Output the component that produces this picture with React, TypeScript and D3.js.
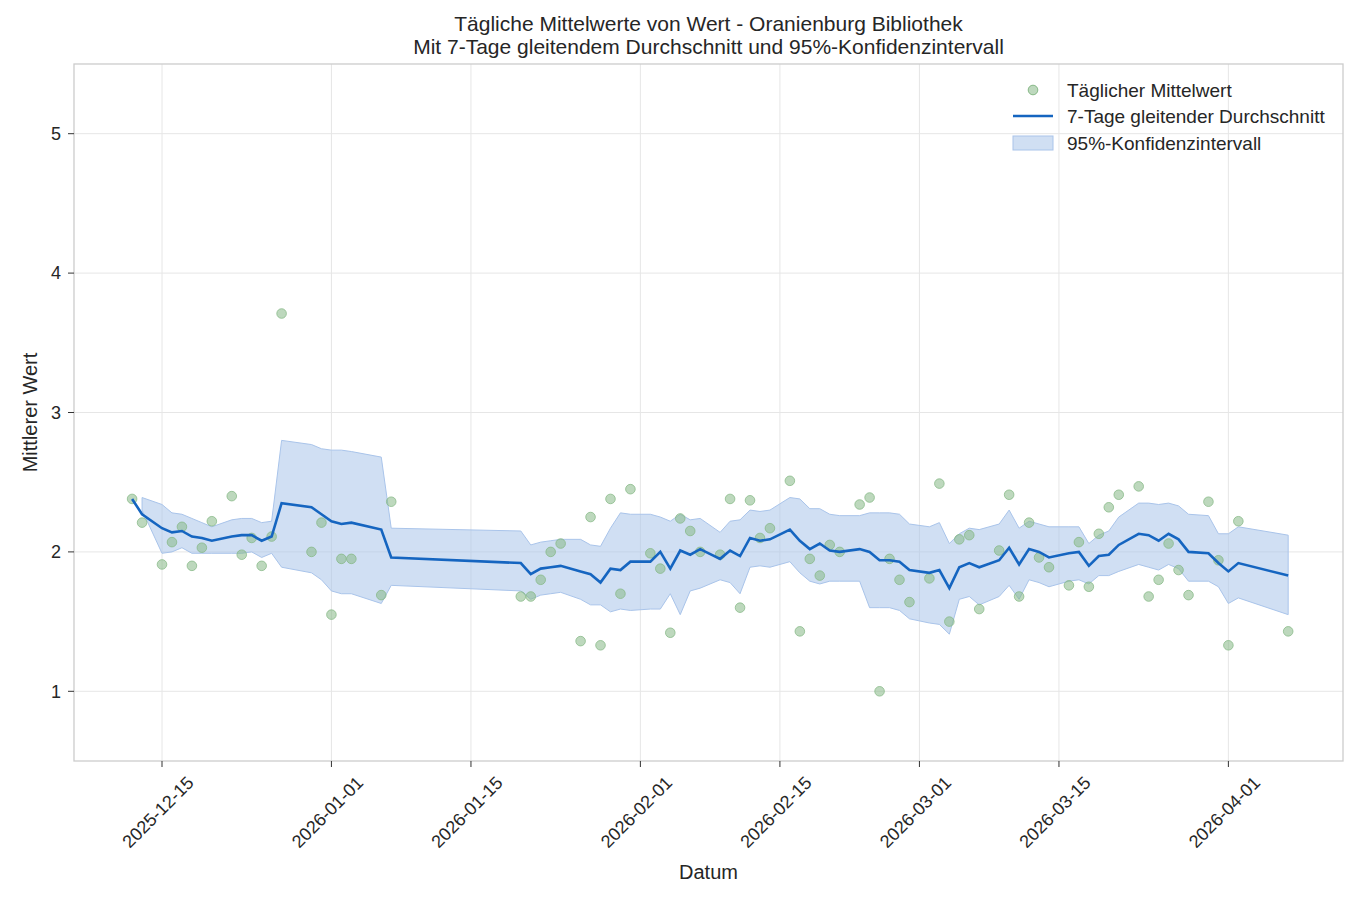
import * as d3 from "d3";
import {useEffect, useRef} from "react";

const dates = ["2025-12-12","2025-12-13","2025-12-15","2025-12-16","2025-12-17","2025-12-18","2025-12-19","2025-12-20","2025-12-22","2025-12-23","2025-12-24","2025-12-25","2025-12-26","2025-12-27","2025-12-30","2025-12-31","2026-01-01","2026-01-02","2026-01-03","2026-01-06","2026-01-07","2026-01-20","2026-01-21","2026-01-22","2026-01-23","2026-01-24","2026-01-26","2026-01-27","2026-01-28","2026-01-29","2026-01-30","2026-01-31","2026-02-02","2026-02-03","2026-02-04","2026-02-05","2026-02-06","2026-02-07","2026-02-09","2026-02-10","2026-02-11","2026-02-12","2026-02-13","2026-02-14","2026-02-16","2026-02-17","2026-02-18","2026-02-19","2026-02-20","2026-02-21","2026-02-23","2026-02-24","2026-02-25","2026-02-26","2026-02-27","2026-02-28","2026-03-02","2026-03-03","2026-03-04","2026-03-05","2026-03-06","2026-03-07","2026-03-09","2026-03-10","2026-03-11","2026-03-12","2026-03-13","2026-03-14","2026-03-16","2026-03-17","2026-03-18","2026-03-19","2026-03-20","2026-03-21","2026-03-23","2026-03-24","2026-03-25","2026-03-26","2026-03-27","2026-03-28","2026-03-30","2026-03-31","2026-04-01","2026-04-02","2026-04-07"];

const daily = [2.38,2.21,1.91,2.07,2.18,1.90,2.03,2.22,2.40,1.98,2.10,1.90,2.11,3.71,2.00,2.21,1.55,1.95,1.95,1.69,2.36,1.68,1.68,1.80,2.00,2.06,1.36,2.25,1.33,2.38,1.70,2.45,1.99,1.88,1.42,2.24,2.15,2.00,1.98,2.38,1.60,2.37,2.10,2.17,2.51,1.43,1.95,1.83,2.05,2.00,2.34,2.39,1.00,1.95,1.80,1.64,1.81,2.49,1.50,2.09,2.12,1.59,2.01,2.41,1.68,2.21,1.96,1.89,1.76,2.07,1.75,2.13,2.32,2.41,2.47,1.68,1.80,2.06,1.87,1.69,2.36,1.94,1.33,2.22,1.43];

const rolling = [2.38,2.27,2.17,2.14,2.15,2.11,2.10,2.08,2.11,2.12,2.12,2.08,2.11,2.35,2.32,2.27,2.22,2.20,2.21,2.16,1.96,1.92,1.84,1.88,1.89,1.90,1.86,1.84,1.78,1.88,1.87,1.93,1.93,2.00,1.88,2.01,1.98,2.02,1.95,2.01,1.97,2.10,2.08,2.09,2.16,2.08,2.02,2.06,2.01,2.00,2.02,2.00,1.94,1.94,1.93,1.87,1.85,1.87,1.74,1.89,1.92,1.89,1.94,2.03,1.91,2.02,2.00,1.96,1.99,2.00,1.90,1.97,1.98,2.05,2.13,2.12,2.08,2.13,2.09,2.00,1.99,1.92,1.86,1.92,1.83];

const ciUpper = [NaN,2.39,2.34,2.28,2.27,2.24,2.21,2.18,2.23,2.24,2.24,2.21,2.22,2.80,2.77,2.74,2.73,2.73,2.72,2.68,2.17,2.15,2.05,2.07,2.08,2.09,2.09,2.05,2.04,2.17,2.28,2.27,2.27,2.25,2.22,2.27,2.23,2.24,2.14,2.22,2.23,2.30,2.29,2.30,2.39,2.38,2.31,2.31,2.27,2.26,2.26,2.28,2.28,2.28,2.27,2.20,2.18,2.21,2.06,2.13,2.17,2.16,2.20,2.30,2.17,2.22,2.20,2.18,2.18,2.18,2.06,2.12,2.15,2.25,2.35,2.35,2.34,2.35,2.33,2.27,2.26,2.13,2.13,2.18,2.12];

const ciLower = [NaN,2.30,1.99,2.00,2.03,1.99,1.99,1.99,1.99,1.99,2.00,1.96,1.99,1.89,1.85,1.80,1.72,1.70,1.70,1.63,1.76,1.72,1.66,1.69,1.70,1.71,1.66,1.62,1.62,1.57,1.59,1.58,1.59,1.59,1.70,1.55,1.72,1.74,1.80,1.78,1.70,1.89,1.90,1.89,1.93,1.85,1.79,1.77,1.79,1.79,1.79,1.60,1.60,1.60,1.58,1.52,1.49,1.48,1.41,1.66,1.68,1.62,1.68,1.76,1.66,1.80,1.78,1.75,1.79,1.80,1.77,1.83,1.83,1.86,1.91,1.89,1.87,1.91,1.88,1.79,1.79,1.75,1.63,1.67,1.55];

const xTicks = ["2025-12-15","2026-01-01","2026-01-15","2026-02-01","2026-02-15","2026-03-01","2026-03-15","2026-04-01"];
const yTicks = [1, 2, 3, 4, 5];

const W = 1366, H = 901;
const M = {left: 74, right: 1343, top: 64, bottom: 761};
const FONT = "'Liberation Sans', Arial, sans-serif";

export default function App() {
  const ref = useRef<SVGSVGElement>(null);

  useEffect(() => {
    const svg = d3.select(ref.current);
    svg.selectAll("*").remove();
    const parse = d3.utcParse("%Y-%m-%d");
    const rows = dates.map((d, i) => ({date: parse(d)!, v: daily[i], ma: rolling[i], lo: ciLower[i], hi: ciUpper[i]}));
    const dec15 = parse("2025-12-15")!.getTime();
    const day = 86400000;
    const x = d3.scaleUtc()
      .domain([new Date(dec15 - 8.83 * day), new Date(dec15 + 118.5 * day)])
      .range([M.left, M.right]);
    const y = d3.scaleLinear().domain([0.5, 5.5]).range([M.bottom, M.top]);

    // grid
    const grid = svg.append("g").attr("stroke", "#e6e6e6").attr("stroke-width", 1);
    xTicks.forEach(t => grid.append("line").attr("x1", x(parse(t)!)).attr("x2", x(parse(t)!)).attr("y1", M.top).attr("y2", M.bottom));
    yTicks.forEach(t => grid.append("line").attr("x1", M.left).attr("x2", M.right).attr("y1", y(t)).attr("y2", y(t)));

    // band
    const area = d3.area<any>().defined(d => !isNaN(d.lo)).x(d => x(d.date)).y0(d => y(d.lo)).y1(d => y(d.hi));
    svg.append("path").datum(rows).attr("d", area).attr("fill", "#a9c4ea").attr("fill-opacity", 0.55)
      .attr("stroke", "#a9c4ea").attr("stroke-width", 1);

    // points
    svg.append("g").selectAll("circle").data(rows).join("circle")
      .attr("cx", d => x(d.date)).attr("cy", d => y(d.v)).attr("r", 4.8)
      .attr("fill", "#86b886").attr("fill-opacity", 0.55).attr("stroke", "#86b886").attr("stroke-opacity", 0.75);

    // rolling mean
    const line = d3.line<any>().x(d => x(d.date)).y(d => y(d.ma));
    svg.append("path").datum(rows).attr("d", line).attr("fill", "none").attr("stroke", "#1565c0").attr("stroke-width", 2.6);

    // frame
    svg.append("rect").attr("x", M.left).attr("y", M.top).attr("width", M.right - M.left).attr("height", M.bottom - M.top)
      .attr("fill", "none").attr("stroke", "#cccccc").attr("stroke-width", 1.3);

    // x ticks
    const xt = svg.append("g").attr("font-family", FONT).attr("font-size", 18).attr("fill", "#262626");
    xTicks.forEach(t => {
      const px = x(parse(t)!);
      xt.append("line").attr("x1", px).attr("x2", px).attr("y1", M.bottom).attr("y2", M.bottom + 6).attr("stroke", "#333");
      xt.append("text").attr("transform", `translate(${px + 24},${M.bottom + 14}) rotate(-45)`)
        .attr("text-anchor", "end").attr("dy", "0.7em").text(t);
    });
    // y ticks
    const yt = svg.append("g").attr("font-family", FONT).attr("font-size", 18).attr("fill", "#262626");
    yTicks.forEach(t => {
      yt.append("line").attr("x1", M.left - 6).attr("x2", M.left).attr("y1", y(t)).attr("y2", y(t)).attr("stroke", "#333");
      yt.append("text").attr("x", M.left - 13).attr("y", y(t)).attr("dy", "0.35em").attr("text-anchor", "end").text(t);
    });

    // labels
    const lab = svg.append("g").attr("font-family", FONT).attr("fill", "#262626").attr("font-size", 20).attr("text-anchor", "middle");
    lab.append("text").attr("x", (M.left + M.right) / 2).attr("y", 879).text("Datum");
    lab.append("text").attr("transform", `translate(37,${(M.top + M.bottom) / 2}) rotate(-90)`).text("Mittlerer Wert");
    lab.append("text").attr("x", (M.left + M.right) / 2).attr("y", 31).attr("font-size", 21).text("Tägliche Mittelwerte von Wert - Oranienburg Bibliothek");
    lab.append("text").attr("x", (M.left + M.right) / 2).attr("y", 54).attr("font-size", 21).text("Mit 7-Tage gleitendem Durchschnitt und 95%-Konfidenzintervall");

    // legend
    const lg = svg.append("g").attr("font-family", FONT).attr("font-size", 19).attr("fill", "#262626");
    lg.append("circle").attr("cx", 1033).attr("cy", 90).attr("r", 4.8).attr("fill", "#86b886").attr("fill-opacity", 0.55).attr("stroke", "#86b886");
    lg.append("text").attr("x", 1067).attr("y", 90).attr("dy", "0.35em").text("Täglicher Mittelwert");
    lg.append("line").attr("x1", 1013).attr("x2", 1053).attr("y1", 116).attr("y2", 116).attr("stroke", "#1565c0").attr("stroke-width", 2.6);
    lg.append("text").attr("x", 1067).attr("y", 116).attr("dy", "0.35em").text("7-Tage gleitender Durchschnitt");
    lg.append("rect").attr("x", 1013).attr("y", 136).attr("width", 40).attr("height", 14).attr("fill", "#a9c4ea").attr("fill-opacity", 0.55).attr("stroke", "#a9c4ea");
    lg.append("text").attr("x", 1067).attr("y", 143).attr("dy", "0.35em").text("95%-Konfidenzintervall");
  }, []);

  return <svg ref={ref} width={W} height={H} style={{position: "absolute", left: 0, top: 0, background: "#fff"}} />;
}
